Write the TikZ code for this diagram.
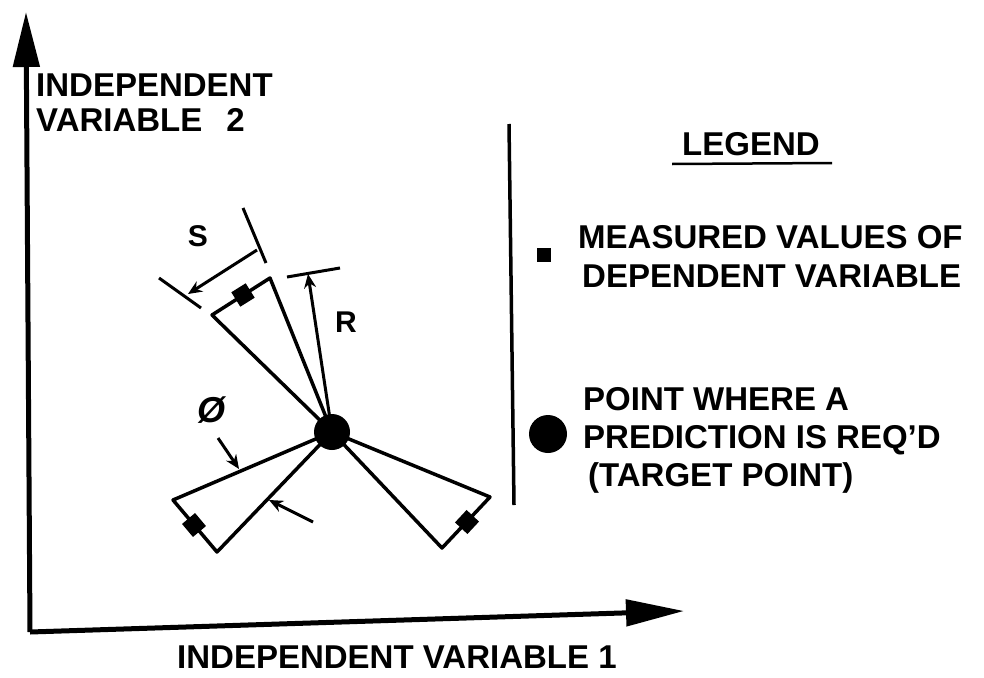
\documentclass[tikz,border=0pt]{standalone}
\usepackage{fontspec}
\setmainfont{Liberation Sans}
\usetikzlibrary{arrows.meta}

\begin{document}
\begin{tikzpicture}[x=1pt,y=-1pt,>=Stealth,
ax/.style={line width=5pt},
wedge/.style={line width=3.5pt,line join=round},
meas/.style={fill,minimum size=17pt,inner sep=0pt},
target/.style={circle,fill,inner sep=0pt},
lbl/.style={font=\fontsize{33}{40}\selectfont\bfseries,inner sep=0pt,anchor=base west},
sym/.style={font=\fontsize{30}{34}\selectfont\bfseries,inner sep=0pt},
dim/.style={line width=3pt,-{Stealth[length=14pt,width=12pt]}}]
\useasboundingbox(0,0)rectangle(984,677);
\coordinate(O)at(30,632);
\coordinate(ytip)at(26,12);
\coordinate(xtip)at(684,611);
\draw[ax,-{Triangle[length=55pt,width=26pt]}](O)--(ytip);
\draw[ax,-{Triangle[length=58pt,width=26pt]}](O)--(xtip);
\node[lbl](y1)at(36,96){INDEPENDENT};
\node[lbl](y2)at(36,131){VARIABLE\hspace{24pt}2};
\node[lbl](x1)at(177,668){INDEPENDENT VARIABLE 1};
\node[target,minimum size=36pt](T)at(332,432){};
\coordinate(a1)at(212,315);
\coordinate(a2)at(270,278);
\coordinate(b1)at(173,500);
\coordinate(b2)at(217,552);
\coordinate(c1)at(490,497);
\coordinate(c2)at(442,548);
\draw[wedge](T.center)--(a1)--(a2)--cycle;
\draw[wedge](T.center)--(b1)--(b2)--cycle;
\draw[wedge](T.center)--(c1)--(c2)--cycle;
\node[meas,rotate=32](m1)at(243,295){};
\node[meas,rotate=-50](m2)at(194,525){};
\node[meas,rotate=47](m3)at(467,522){};
\coordinate(r1)at(287,277);
\coordinate(r2)at(340,268);
\coordinate(rt)at(308,274);
\draw[line width=3pt](r1)--(r2);
\draw[dim](T.center)--(rt);
\node[sym](R)at(346,322){R};
\coordinate(s1)at(159,278);
\coordinate(s2)at(201,308);
\coordinate(s3)at(243,208);
\coordinate(s4)at(266,263);
\draw[line width=3pt](s1)--(s2)(s3)--(s4);
\draw[dim,{Stealth[length=14pt,width=12pt]}-](188,294)--(257,250);
\node[sym](S)at(198,236){S};
\node[sym,font=\fontsize{36}{40}\selectfont\bfseries\itshape](phi)at(211,410){\O};
\coordinate(p1)at(218,438);
\coordinate(p2)at(239,469);
\draw[dim](p1)--(p2);
\coordinate(q1)at(313,522);
\coordinate(q2)at(269,500);
\draw[dim](q1)--(q2);
\draw[line width=3.5pt](509,124)--(514,505);
\node[lbl](leg)at(682,155){LEGEND};
\draw[line width=2.5pt](leg.base west)++(-10,9)--++(160,-1);
\node[meas,minimum size=14pt](ms)at(544,255){};
\node[lbl](l1)at(578,248){MEASURED VALUES OF};
\node[lbl](l2)at(582,287){DEPENDENT VARIABLE};
\node[target,minimum size=38pt](tp)at(548,434){};
\node[lbl](l3)at(583,410){POINT WHERE A};
\node[lbl](l4)at(583,448){PREDICTION IS REQ'D};
\node[lbl](l5)at(588,486){(TARGET POINT)};
\end{tikzpicture}
\end{document}
